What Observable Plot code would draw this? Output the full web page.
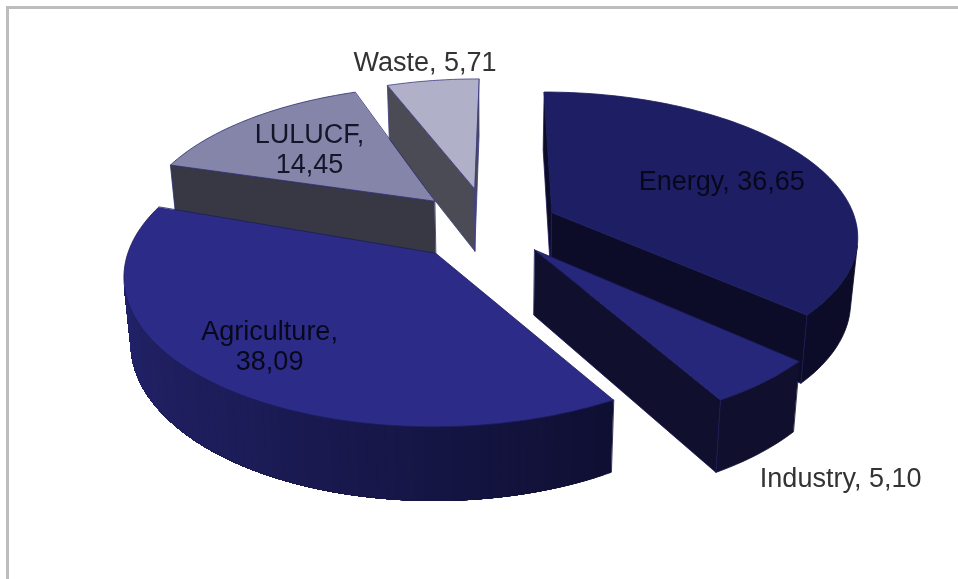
<!DOCTYPE html>
<html>
<head>
<meta charset="utf-8">
<script src="https://cdn.jsdelivr.net/npm/d3@7"></script>
<script src="https://cdn.jsdelivr.net/npm/@observablehq/plot@0.6"></script>
<style>
  html, body { margin: 0; padding: 0; background: #fff; overflow: hidden; }
  #frame { position: absolute; left: 6px; top: 6px; width: 960px; height: 580px;
           border-left: 3px solid #bdbdbd; border-top: 3px solid #bdbdbd; filter: blur(0.5px); }
  #chart { position: absolute; left: 0; top: 0; }
  #chart svg { filter: blur(0.7px); }
</style>
</head>
<body>
<div id="frame"></div>
<div id="chart"></div>
<script>
// Data
const categories = ["Energy", "Industry", "Agriculture", "LULUCF", "Waste"];
const shares = [36.65, 5.10, 38.09, 14.45, 5.71];

// Styles and placement, per category
const topColors = ["#1e1e64", "#26267a", "#2c2c88", "#8585a9", "#b0b0c8"];
const sideColors = ["#0c0c28", "#10102e", "#14143f", "#383844", "#4b4b55"];
const edgeColors = ["#1c1c5c", "#1c1c5c", "#1c1c5c", "#2c2c70", "#3c3c80"];
const labelColors = ["#08081c", "#333333", "#08081c", "#15152a", "#333333"];
const labelBreak = [false, false, true, true, false];
const labelReach = [0.638, 1.45, 0.76, 0.65, 1.2];
const labelTurn = [2, 7, 1, -1, 0];
const apexNudge = [0, 0, 0.03, 0.03, 0.05];
const sideShift = [0, 0, -0.02, -0.01, -0.01];
const paintOrder = ["Waste", "LULUCF", "Energy", "Industry", "Agriculture"];

// Projection of the tilted, exploded pie
const explode = 0.22, persp = 0.15, drop = 0.46, shrink = 0.02;
const project = (X, Y, z) => {
  const w = (1 + persp * Y) * (1 + shrink * z);
  return {x: X / w, y: (Y - drop * z) / w};
};
const fmt = (v) => v.toFixed(2).replace(".", ",");
const signedArea = (corners) => {
  const p = corners.map(([X, Y, z]) => project(X, Y, z));
  return d3.sum(p, (a, k) => {
    const b = p[(k + 1) % p.length];
    return a.x * b.y - b.x * a.y;
  });
};

const arcs = d3.pie().sort(null).value((d) => d)(shares);
const points = [];
let faceId = 0;
const addFace = (corners, fill, stroke) => {
  const id = faceId++;
  for (const [X, Y, z] of corners) points.push({...project(X, Y, z), id, fill, stroke});
};

const slices = categories.map((name, i) => {
  const a = arcs[i];
  const mid = (a.startAngle + a.endAngle) / 2;
  return {name, i, a0: a.startAngle, a1: a.endAngle, mid,
          ox: explode * Math.sin(mid) + sideShift[i], oy: explode * Math.cos(mid)};
});

for (const name of paintOrder) {
  const s = slices.find((d) => d.name === name);
  const {i, a0, a1, mid, ox, oy} = s;
  const at = (t) => [ox + Math.sin(t), oy + Math.cos(t)];
  const apex = [ox + apexNudge[i] * Math.sin(mid), oy + apexNudge[i] * Math.cos(mid)];
  const steps = Math.max(6, Math.ceil((a1 - a0) / (Math.PI / 120)));
  const angles = d3.range(steps + 1).map((k) => a0 + (a1 - a0) * k / steps);
  const wallQuad = (t0, t1) => {
    const [x0, y0] = at(t0), [x1, y1] = at(t1);
    return [[x0, y0, 0], [x1, y1, 0], [x1, y1, 1], [x0, y0, 1]];
  };

  // Outer wall: only the part that faces the viewer
  const front = angles.filter((t, k) => k < steps && signedArea(wallQuad(t, angles[k + 1])) > 0);
  if (front.length) {
    const last = front[front.length - 1] + (a1 - a0) / steps;
    const runAngles = [...front, last];
    const wallFrom = (k) => {
      const run = runAngles.slice(k);
      return [...run.map((t) => [...at(t), 0]), ...run.slice().reverse().map((t) => [...at(t), 1])];
    };
    if (name === "Agriculture") {
      const shade = d3.scaleLinear()
        .domain([a0, a0 + (a1 - a0) * 0.45, a1])
        .range(["#0f0f33", "#1c1c58", "#272776"])
        .interpolate(d3.interpolateRgb);
      for (let k = 0; k < runAngles.length - 1; k++) {
        const c = shade(runAngles[k]);
        addFace(wallFrom(k), c, c);
      }
    } else {
      addFace(wallFrom(0), sideColors[i], sideColors[i]);
    }
  }

  // Cut faces: drawn only when they face the viewer
  const [sx, sy] = at(a0), [ex, ey] = at(a1);
  const startFace = [[...apex, 0], [sx, sy, 0], [sx, sy, 1], [...apex, 1]];
  const endFace = [[...apex, 1], [ex, ey, 1], [ex, ey, 0], [...apex, 0]];
  if (signedArea(startFace) > 0) addFace(startFace, sideColors[i], edgeColors[i]);
  if (signedArea(endFace) > 0) addFace(endFace, sideColors[i], edgeColors[i]);

  // Top face
  addFace([[...apex, 0], ...angles.map((t) => [...at(t), 0])], topColors[i], edgeColors[i]);
}

const labels = slices.map((s) => {
  const t = s.mid + labelTurn[s.i] * Math.PI / 180;
  const r = labelReach[s.i];
  const val = fmt(shares[s.i]);
  return {
    ...project(s.ox + r * Math.sin(t), s.oy + r * Math.cos(t), 0),
    text: s.name + "," + (labelBreak[s.i] ? "\n" : " ") + val,
    color: labelColors[s.i]
  };
});

const chart = Plot.plot({
  width: 958, height: 579,
  marginTop: 0, marginRight: 0, marginBottom: 0, marginLeft: 0,
  style: {background: "transparent"},
  x: {domain: [-1, 1], range: [186, 796], axis: null},
  y: {domain: [-1, 1], range: [366.5, 82.5], axis: null},
  color: {type: "identity"},
  marks: [
    Plot.line(points, {x: "x", y: "y", z: "id", fill: "fill", stroke: "stroke", strokeWidth: 0.8, curve: "linear-closed", strokeLinejoin: "round"}),
    Plot.text(labels, {x: "x", y: "y", text: "text", fill: "color", fontSize: 27, lineHeight: 1.11, fontFamily: "Liberation Sans, Arial, sans-serif"})
  ]
});
document.getElementById("chart").append(chart);
</script>
</body>
</html>
